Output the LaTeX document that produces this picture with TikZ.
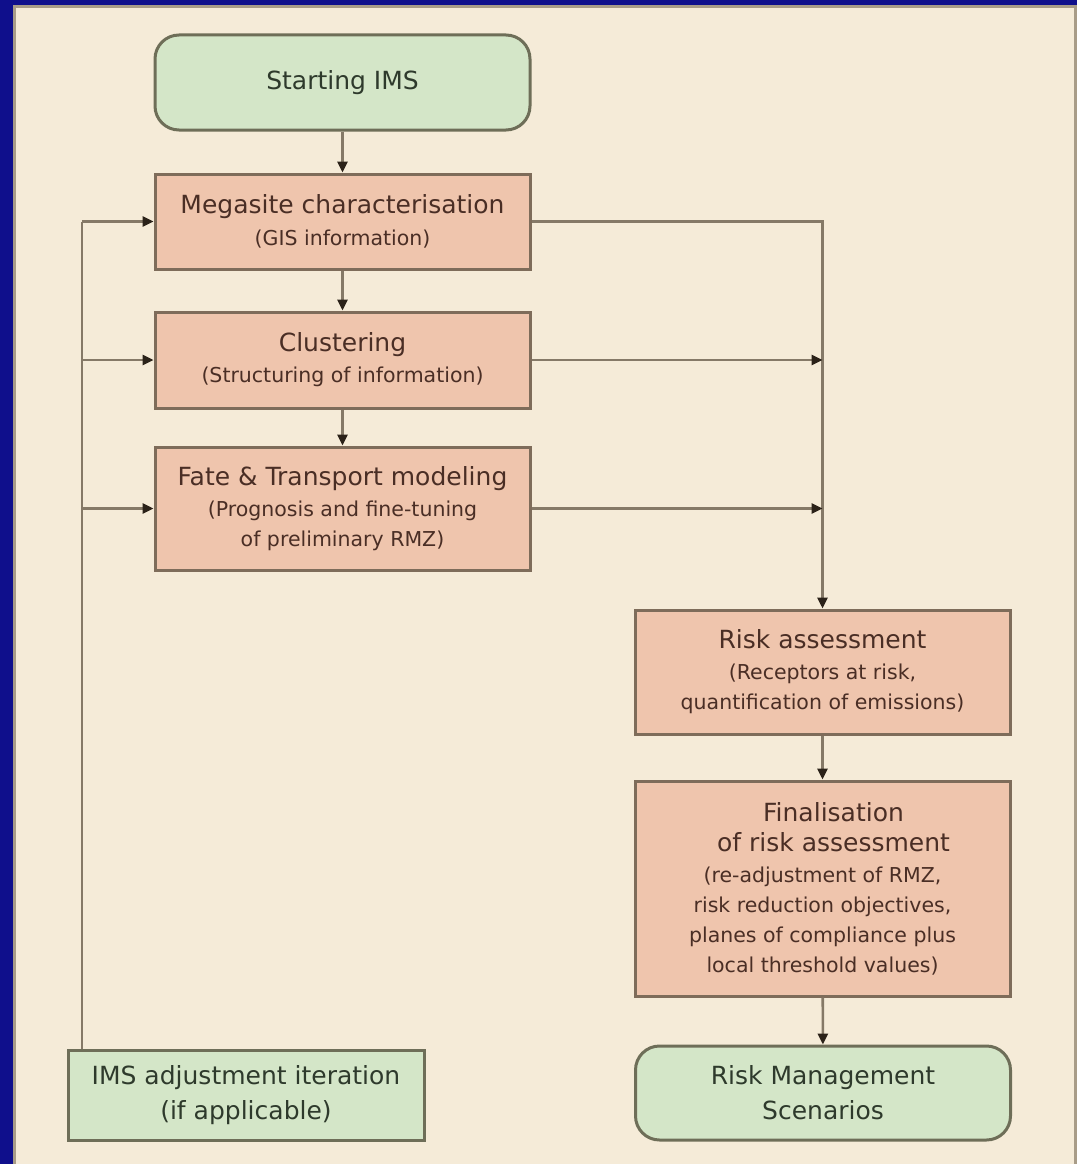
\documentclass[tikz,border=0pt]{standalone}
\usepackage{fontspec}
\setmainfont{DejaVu Sans}
\usetikzlibrary{arrows.meta}
\definecolor{frameblue}{HTML}{0F0F8C}
\definecolor{paper}{HTML}{F5EBD8}
\definecolor{edgegray}{HTML}{A89C88}
\definecolor{pinkfill}{HTML}{EFC5AD}
\definecolor{pinkline}{HTML}{7E6C5A}
\definecolor{greenfill}{HTML}{D4E6C8}
\definecolor{greenline}{HTML}{6E6E58}
\definecolor{wire}{HTML}{857967}
\definecolor{tipcol}{HTML}{2B2219}
\definecolor{pinktext}{HTML}{4A2E25}
\definecolor{greentext}{HTML}{2E3A2C}
\newcommand{\ttl}{\fontsize{25}{35}\selectfont}
\newcommand{\subt}{\fontsize{20.5}{30}\selectfont}
\tikzset{
  procbox/.style={draw=pinkline, line width=3pt, fill=pinkfill, text=pinktext,
    minimum width=375pt, align=center, inner sep=0pt, font=\subt},
  termbox/.style={draw=greenline, line width=3pt, fill=greenfill, text=greentext,
    minimum width=375pt, rounded corners=24pt, align=center, inner sep=0pt, font=\ttl},
  notebox/.style={draw=greenline, line width=3pt, fill=greenfill, text=greentext,
    align=center, inner sep=0pt, font=\ttl},
  link/.style={draw=wire, line width=2.6pt,
    -{Triangle[length=11pt,width=10pt,fill=tipcol,color=tipcol]}},
  plain/.style={draw=wire, line width=2.6pt}
}
\begin{document}
\begin{tikzpicture}[x=1pt,y=-1pt]
  % page frame
  \fill[frameblue] (0,0) rectangle (1077,1164);
  \fill[edgegray] (13,5) rectangle (1077,1164);
  \fill[paper] (16,8) rectangle (1074,1164);
  \useasboundingbox (0,0) rectangle (1077,1164);

  % boxes
  \node[termbox, minimum height=95pt] (start) at (342.5,82.5) {Starting IMS};
  \node[procbox, minimum height=95pt] (mega) at (342.5,221.5)
    {{\ttl Megasite characterisation}\\[2pt](GIS information)};
  \node[procbox, minimum height=96pt] (clus) at (342.5,360)
    {{\ttl Clustering}\\[1pt](Structuring of information)};
  \node[procbox, minimum height=123pt] (fate) at (342.5,508.5)
    {{\ttl Fate \& Transport modeling}\\[1pt](Prognosis and fine-tuning\\of preliminary RMZ)};
  \node[procbox, minimum height=124pt] (risk) at (822.5,672)
    {{\ttl Risk assessment}\\[1pt](Receptors at risk,\\quantification of emissions)};
  \node[procbox, minimum height=215pt] (final) at (822.5,888.5)
    {{\ttl \hspace*{22pt}Finalisation}\\{\ttl \hspace*{22pt}of risk assessment}\\[1pt](re-adjustment of RMZ,\\risk reduction objectives,\\planes of compliance plus\\local threshold values)};
  \node[termbox, minimum height=94pt] (rms) at (823,1093)
    {Risk Management\\Scenarios};
  \node[notebox, minimum width=356pt, minimum height=90pt] (adj) at (246,1095)
    {IMS adjustment iteration\\(if applicable)};

  % feedback bus on the left
  \coordinate (loopx) at (82,0);
  \draw[plain] (adj.north -| loopx) -- (loopx |- mega.west);
  \draw[link] (loopx |- mega.west) -- (mega.west);
  \draw[link] (loopx |- clus.west) -- (clus.west);
  \draw[link] (loopx |- fate.west) -- (fate.west);

  % main chain
  \draw[link] (start) -- (mega);
  \draw[link] (mega) -- (clus);
  \draw[link] (clus) -- (fate);

  % collector on the right
  \draw[link] (mega.east) -| (risk.north);
  \draw[link] (clus.east) -- (clus.east -| risk.north);
  \draw[link] (fate.east) -- (fate.east -| risk.north);

  \draw[link] (risk) -- (final);
  \draw[link] (final) -- (rms);
\end{tikzpicture}
\end{document}
